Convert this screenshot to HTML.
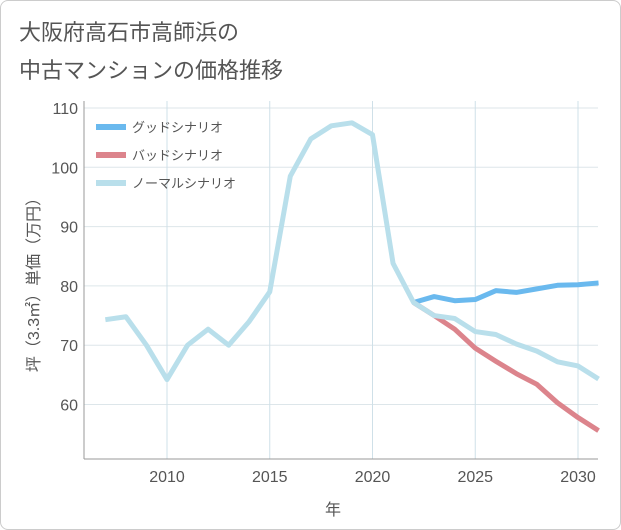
<!DOCTYPE html>
<html><head><meta charset="utf-8">
<style>
body{margin:0;background:#fff;}
#wrap{position:relative;width:619px;height:528px;border:1px solid #ccc;border-radius:8px;background:#fff;overflow:hidden;font-family:"Liberation Sans","Noto Sans CJK JP",sans-serif;}
.title{position:absolute;left:18px;font-size:22px;color:#555;margin:0;font-weight:normal;}
</style></head><body>
<div id="wrap">
<div class="title" style="top:14px">大阪府高石市高師浜の</div>
<div class="title" style="top:52px">中古マンションの価格推移</div>
<svg id="chart" width="621" height="530" style="position:absolute;left:0;top:0"></svg>
</div>
<script>
const years=[2007,2008,2009,2010,2011,2012,2013,2014,2015,2016,2017,2018,2019,2020,2021,2022,2023,2024,2025,2026,2027,2028,2029,2030,2031];
const normalValues=[74.3,74.8,70,64.2,70,72.7,70,74,79,98.5,104.8,107,107.5,105.5,83.8,77.2,75,74.5,72.3,71.8,70.2,69,67.2,66.5,64.3];
const futureYears=[2022,2023,2024,2025,2026,2027,2028,2029,2030,2031];
const goodValues=[77.2,78.2,77.5,77.7,79.2,78.9,79.5,80.1,80.2,80.5];
const badValues=[77.2,75,72.7,69.5,67.3,65.2,63.4,60.3,57.8,55.6];
const yTicks=[60,70,80,90,100,110];
const xTicks=[2010,2015,2020,2025,2030];
const legendLabels=["グッドシナリオ","バッドシナリオ","ノーマルシナリオ"];
const colors=["#6ab9ee","#dc848c","#b9dfeb"];
const L=83,R=597,T=100,B=458;
const xs=y=>166+(y-2010)*20.55;
const ys=v=>107+(110-v)*5.93;
const svg=document.getElementById('chart');
const NS="http://www.w3.org/2000/svg";
function mk(t,a){const e=document.createElementNS(NS,t);for(const k in a)e.setAttribute(k,a[k]);svg.appendChild(e);return e;}
for(const t of yTicks){const g=mk('line',{x1:L,x2:R,y1:ys(t),y2:ys(t),stroke:'#dde6ea','stroke-width':1});


const tx=mk('text',{x:L-6,y:ys(t)+6,'text-anchor':'end','font-size':16,fill:'#555'});tx.textContent=t;

}
for(const t of xTicks){const g=mk('line',{x1:xs(t),x2:xs(t),y1:T,y2:B,stroke:'#cfe0e8','stroke-width':1});


const tx=mk('text',{x:xs(t),y:B+23,'text-anchor':'middle','font-size':16,fill:'#555'});tx.textContent=t;

}
const ax=mk('line',{x1:L,x2:L,y1:T,y2:B,stroke:'#999'});


const ax2=mk('line',{x1:L,x2:R,y1:B,y2:B,stroke:'#999'});


function line(xa,va,c,name){const p=mk('polyline',{points:xa.map((y,i)=>xs(y)+','+ys(va[i])).join(' '),fill:'none',stroke:c,'stroke-width':5,'stroke-linejoin':'round'});

}
line(futureYears,goodValues,colors[0],'good-scenario-line');
line(futureYears,badValues,colors[1],'bad-scenario-line');
line(years,normalValues,colors[2],'normal-scenario-line');
legendLabels.forEach((lb,i)=>{const y=126+i*28;
const l=mk('line',{x1:95,x2:125,y1:y,y2:y,stroke:colors[i],'stroke-width':6});


const t=mk('text',{x:131,y:y+5,'font-size':13,fill:'#555'});t.textContent=lb;

});
const yt=mk('text',{transform:'translate(38,280) rotate(-90)','text-anchor':'middle','font-size':16,fill:'#555'});yt.textContent='坪（3.3㎡）単価（万円）';


const xt=mk('text',{x:332,y:514,'text-anchor':'middle','font-size':16,fill:'#555'});xt.textContent='年';


</script>
</body></html>
